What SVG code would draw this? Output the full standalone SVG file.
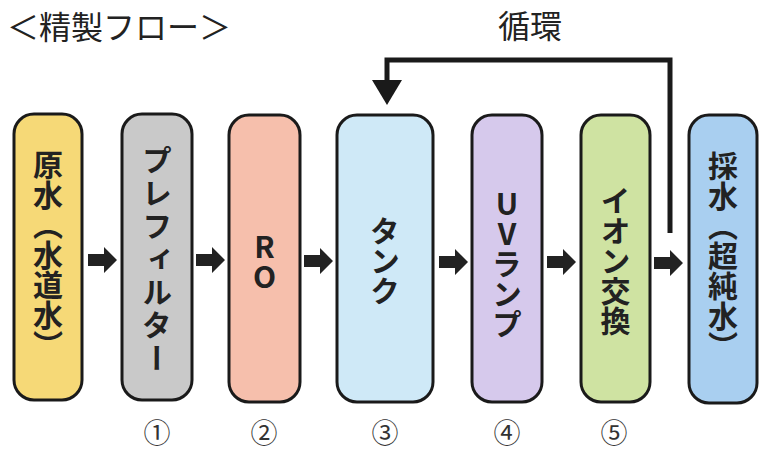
<svg xmlns="http://www.w3.org/2000/svg" width="767" height="451" viewBox="0 0 767 451">
<defs>
<style>
.box{stroke:#1a1a1a;stroke-width:3}
.lbl{font-family:"Noto Sans CJK JP","Noto Sans",sans-serif;font-size:30px;font-weight:700;fill:#222;writing-mode:vertical-rl;text-anchor:middle;dominant-baseline:central}
.up{text-orientation:upright}
.hd{font-family:"Noto Sans CJK JP","Noto Sans",sans-serif;font-size:32px;fill:#222}
.num{font-family:"Noto Sans CJK JP","Noto Sans",sans-serif;font-size:27px;fill:#333;text-anchor:middle}
.arr{fill:#222}
</style>
<path id="ar" d="M0,-6 H16 V-13 L29,0 L16,13 V6 H0 Z"/>
</defs>
<rect width="767" height="451" fill="#fff"/>
<text class="hd" x="7" y="39">＜精製フロー＞</text>
<text class="hd" x="530" y="38" text-anchor="middle" font-size="31">循環</text>

<g id="n1"><rect class="box" x="14" y="114" width="68" height="286" rx="20" fill="#f6d977"/><text class="lbl" x="48" y="255">原水（水道水）</text></g>
<g id="n2"><rect class="box" x="122" y="114" width="70" height="286" rx="20" fill="#c9c9c9"/><text class="lbl" x="157" y="260" letter-spacing="3">プレフィルター</text></g>
<g id="n3"><rect class="box" x="229" y="115" width="71" height="287" rx="20" fill="#f6bfac"/><text class="lbl up" x="264.5" y="262">RO</text></g>
<g id="n4"><rect class="box" x="337" y="115" width="96" height="287" rx="20" fill="#cfe9f7"/><text class="lbl" x="385" y="261">タンク</text></g>
<g id="n5"><rect class="box" x="472" y="115" width="70" height="287" rx="20" fill="#d6c9ec"/><text class="lbl up" x="507" y="264">UVランプ</text></g>
<g id="n6"><rect class="box" x="581" y="115" width="69" height="287" rx="20" fill="#cfe3a2"/><text class="lbl" x="615.5" y="261">イオン交換</text></g>
<g id="n7"><rect class="box" x="689" y="115" width="68" height="288" rx="20" fill="#a9cff0"/><text class="lbl" x="723" y="256">採水（超純水）</text></g>

<g id="connectors">
<use href="#ar" class="arr" x="88" y="260"/>
<use href="#ar" class="arr" x="196" y="260"/>
<use href="#ar" class="arr" x="304" y="261"/>
<use href="#ar" class="arr" x="439" y="262"/>
<use href="#ar" class="arr" x="547" y="262"/>
<use href="#ar" class="arr" x="654" y="263"/>
<path d="M670,233 V60 H387 V84" fill="none" stroke="#1a1a1a" stroke-width="5"/>
<polygon points="372,80 402,80 387,105" fill="#1a1a1a"/>
</g>

<g id="numbers">
<text class="num" x="157" y="443">①</text>
<text class="num" x="264" y="443">②</text>
<text class="num" x="385" y="443">③</text>
<text class="num" x="507" y="443">④</text>
<text class="num" x="614" y="443">⑤</text>
</g>
</svg>
